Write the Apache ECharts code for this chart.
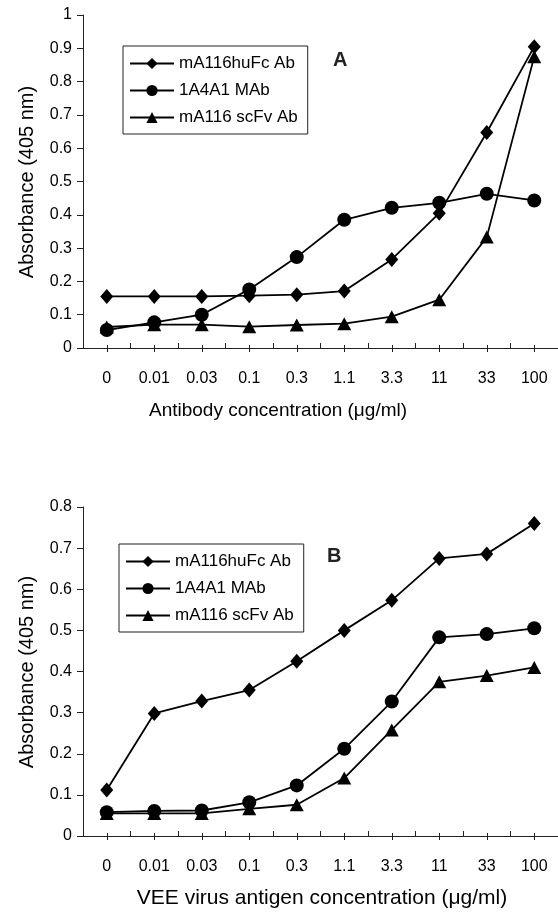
<!DOCTYPE html>
<html>
<head>
<meta charset="utf-8">
<script src="https://cdn.jsdelivr.net/npm/echarts@6/dist/echarts.min.js"></script>
<style>
html,body{margin:0;padding:0;background:#fff;}
#c{width:558px;height:915px;}
</style>
</head>
<body>
<div id="c"></div>
<script>
// ---- data ----
var categories = ['0', '0.01', '0.03', '0.1', '0.3', '1.1', '3.3', '11', '33', '100'];
var seriesNames = ['mA116huFc Ab', '1A4A1 MAb', 'mA116 scFv Ab'];

// Panel A: antibody concentration
var A_huFc = [0.155, 0.155, 0.155, 0.157, 0.160, 0.171, 0.266, 0.405, 0.647, 0.905];
var A_1A4A1 = [0.054, 0.077, 0.100, 0.176, 0.273, 0.385, 0.421, 0.436, 0.463, 0.443];
var A_scFv = [0.063, 0.070, 0.070, 0.064, 0.069, 0.073, 0.094, 0.145, 0.333, 0.875];

// Panel B: VEE virus antigen concentration
var B_huFc = [0.112, 0.298, 0.328, 0.355, 0.425, 0.500, 0.573, 0.675, 0.686, 0.760];
var B_1A4A1 = [0.058, 0.061, 0.062, 0.082, 0.123, 0.212, 0.327, 0.483, 0.491, 0.505];
var B_scFv = [0.055, 0.055, 0.055, 0.066, 0.076, 0.141, 0.258, 0.375, 0.390, 0.410];

var yTicksA = {min: 0, max: 1, interval: 0.1};
var yTicksB = {min: 0, max: 0.8, interval: 0.1};

var xTitleA = 'Antibody concentration (\u03bcg/ml)';
var xTitleB = 'VEE virus antigen concentration (\u03bcg/ml)';
var yTitle = 'Absorbance (405 nm)';

// ---- chart ----
var FONT = '"Liberation Sans", Arial, Helvetica, sans-serif';
var INK = '#000';
var chart = echarts.init(document.getElementById('c'), null, {renderer: 'canvas'});

var symbols = ['diamond', 'circle', 'triangle'];
var symbolSizes = [[13, 15], 14, [14, 13]];

function makeX(gridIndex, isLabelAxis) {
  if (!isLabelAxis) {
    return {
      type: 'category', gridIndex: gridIndex, data: categories, boundaryGap: true,
      axisLine: {show: true, lineStyle: {color: '#222', width: 1}},
      axisTick: {show: true, inside: true, length: 5, alignWithLabel: false, lineStyle: {color: '#222'}},
      axisLabel: {show: false}, splitLine: {show: false}
    };
  }
  return {
    type: 'category', gridIndex: gridIndex, data: categories, boundaryGap: true,
    position: 'bottom', offset: -3,
    axisLine: {show: false},
    axisTick: {show: true, inside: false, length: 7, alignWithLabel: true, lineStyle: {color: '#222'}},
    axisLabel: {show: true, margin: 26, fontSize: 16, color: INK, fontFamily: FONT},
    splitLine: {show: false}
  };
}

function makeY(gridIndex, t) {
  return {
    type: 'value', gridIndex: gridIndex, min: t.min, max: t.max, interval: t.interval,
    axisLine: {show: true, lineStyle: {color: '#222', width: 1}},
    axisTick: {show: true, inside: false, length: 6, lineStyle: {color: '#222'}},
    axisLabel: {show: true, margin: 11, fontSize: 16, color: INK, fontFamily: FONT},
    splitLine: {show: false}
  };
}

function makeSeries(idx, data, xi, yi) {
  return {
    type: 'line', name: seriesNames[idx], data: data,
    xAxisIndex: xi, yAxisIndex: yi,
    symbol: symbols[idx], symbolSize: symbolSizes[idx], showAllSymbol: true,
    lineStyle: {color: INK, width: 1.8},
    itemStyle: {color: INK, borderColor: INK, borderWidth: 0},
    emphasis: {disabled: true},
    animation: false, z: 3 + idx
  };
}

function makeLegend(left, top) {
  return {
    data: seriesNames, orient: 'vertical', left: left, top: top,
    itemWidth: 44, itemHeight: 14, itemGap: 10,
    padding: [9, 10, 8, 6],
    borderColor: '#222', borderWidth: 1, backgroundColor: '#fff',
    textStyle: {fontSize: 17, color: INK, fontFamily: FONT},
    selectedMode: false
  };
}

var option = {
  animation: false,
  backgroundColor: '#fff',
  grid: [
    {left: 83, top: 15, width: 476, height: 333},
    {left: 83, top: 507, width: 476, height: 329}
  ],
  xAxis: [makeX(0, false), makeX(0, true), makeX(1, false), makeX(1, true)],
  yAxis: [makeY(0, yTicksA), makeY(1, yTicksB)],
  legend: [makeLegend(123, 46), makeLegend(119, 544)],
  series: [
    makeSeries(0, A_huFc, 0, 0),
    makeSeries(1, A_1A4A1, 0, 0),
    makeSeries(2, A_scFv, 0, 0),
    makeSeries(0, B_huFc, 2, 1),
    makeSeries(1, B_1A4A1, 2, 1),
    makeSeries(2, B_scFv, 2, 1)
  ],
  graphic: [
    {type: 'text', left: 333, top: 50, style: {text: 'A', font: 'bold 20px ' + FONT, fill: '#222'}},
    {type: 'text', left: 327, top: 546, style: {text: 'B', font: 'bold 20px ' + FONT, fill: '#222'}},
    {type: 'text', x: 278, y: 411, style: {text: xTitleA, font: '19px ' + FONT, fill: INK, textAlign: 'center', textVerticalAlign: 'middle'}},
    {type: 'text', x: 322, y: 898, style: {text: xTitleB, font: '21px ' + FONT, fill: INK, textAlign: 'center', textVerticalAlign: 'middle'}},
    {type: 'text', x: 27, y: 182, rotation: Math.PI / 2, style: {text: yTitle, font: '20px ' + FONT, fill: INK, textAlign: 'center', textVerticalAlign: 'middle'}},
    {type: 'text', x: 27, y: 672, rotation: Math.PI / 2, style: {text: yTitle, font: '20px ' + FONT, fill: INK, textAlign: 'center', textVerticalAlign: 'middle'}}
  ]
};
chart.setOption(option);
</script>
</body>
</html>
